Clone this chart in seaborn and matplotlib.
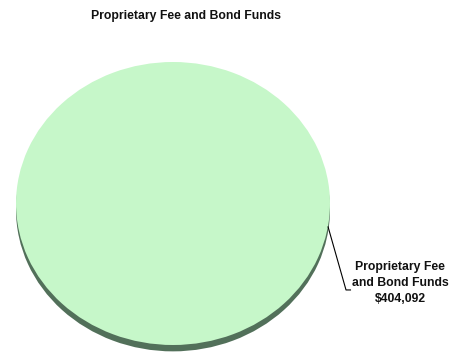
import numpy as np
import matplotlib
matplotlib.use("Agg")
import matplotlib.pyplot as plt
import seaborn as sns

categories = ["Proprietary Fee\nand Bond Funds"]
values = [404092]
title = "Proprietary Fee and Bond Funds"

sns.set_theme(style="white")
plt.rcParams['font.family'] = ['Liberation Sans', 'DejaVu Sans']

fig = plt.figure(figsize=(4.6, 3.6), dpi=100)
W, H = 460, 360
ax = fig.add_axes([16 / W, 15 / H, 314 / W, 283 / H])

face = "#c6f7c9"
shadow = "#52705a"

# shadow (3D depth)
ax.pie(values, colors=[shadow], radius=1.0, center=(0, -0.045), startangle=90,
       counterclock=False, wedgeprops=dict(linewidth=0), frame=False)
# face
ax.pie(values, colors=[face], radius=1.0, center=(0, 0), startangle=90,
       counterclock=False, wedgeprops=dict(linewidth=0), frame=False)

ax.set_aspect('auto')
ax.set_xlim(-1, 1)
ax.set_ylim(-1, 1)
ax.axis('off')

# leader line and label
ang = np.deg2rad(-9.3)
x0, y0 = np.cos(ang), np.sin(ang)
ax.plot([x0, 1.102, 1.134], [y0, -0.611, -0.611], color="black", lw=0.8,
        clip_on=False, solid_capstyle='butt')
ax.text(1.446, -0.565, f"{categories[0]}\n${values[0]:,.0f}", ha="center", va="center",
        fontsize=8.8, fontweight="bold", linespacing=1.45, color="#111111", clip_on=False)

fig.text(186 / W, 1 - 16 / H, title, ha="center", va="center", fontsize=8.8,
         fontweight="bold", color="#111111")

fig.savefig("out.png", dpi=100)
